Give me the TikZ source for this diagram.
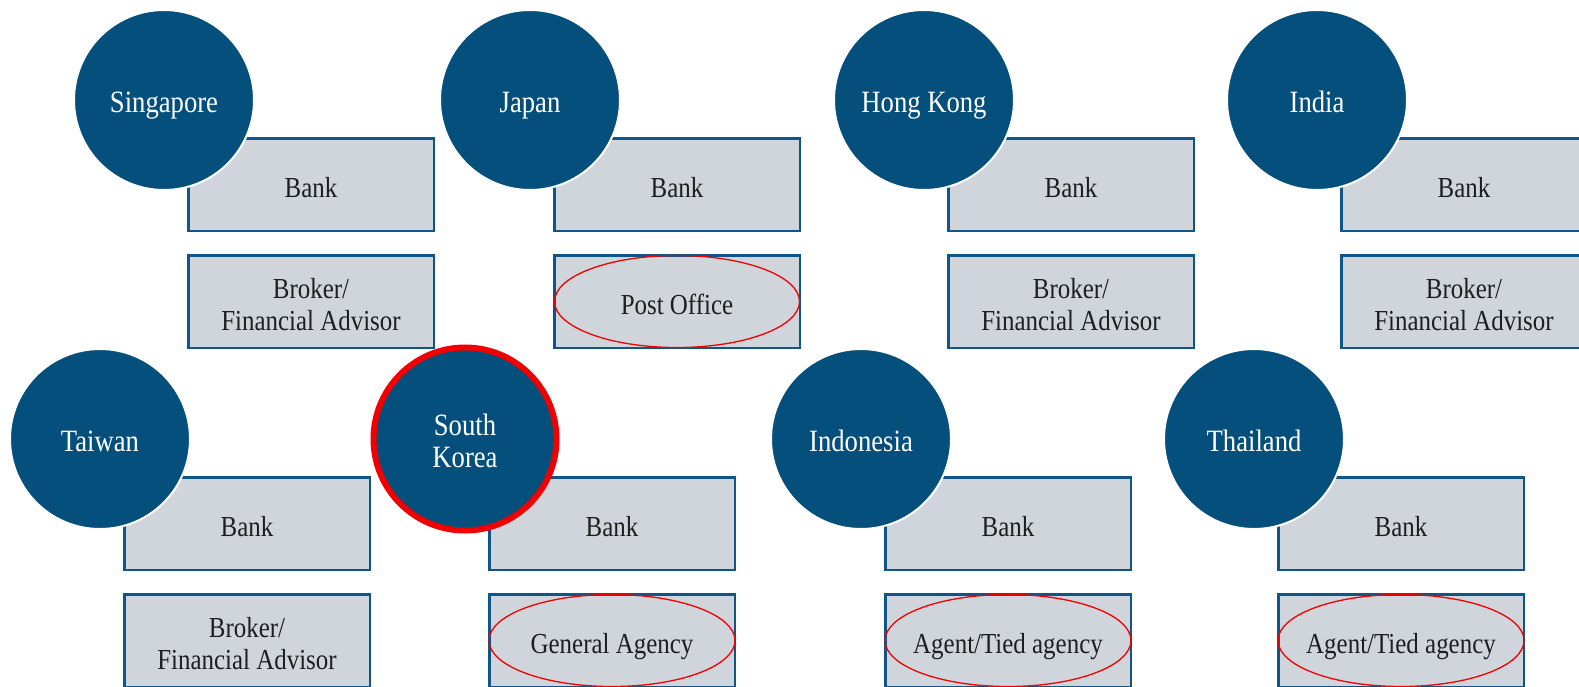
\documentclass[tikz,border=0pt]{standalone}
\usepackage{fontspec}
\setmainfont{Liberation Serif}[FakeStretch=0.86]
\usetikzlibrary{shapes.geometric}

\definecolor{navy}{HTML}{054F7C}
\definecolor{boxfill}{HTML}{D0D5DC}
\definecolor{boxline}{HTML}{0F5686}
\definecolor{ink}{HTML}{1E1E1E}
\definecolor{alert}{HTML}{F00000}

\tikzset{
  % baseline placement: text box height counted down to the last baseline
  oneline/.style={text height=26pt, text depth=0pt},
  twoline/.style={text height=57pt, text depth=0pt},
  country/.style={circle, fill=navy, draw=white, line width=2pt,
    minimum size=180pt, inner sep=0pt, text=white, align=center,
    font=\fontsize{31}{32}\selectfont, text height=24pt, text depth=0pt},
  focuscountry/.style={country, draw=alert, line width=6pt, minimum size=183pt,
    text height=56pt},
  channel/.style={rectangle, fill=boxfill, draw=boxline, line width=2.5pt,
    minimum width=245.5pt, minimum height=92.5pt, inner sep=0pt,
    text=ink, align=center, font=\fontsize{29}{32}\selectfont, oneline},
  channel2/.style={channel, twoline},
  focusring/.style={draw=alert, line width=1.3pt},
}

\begin{document}
\begin{tikzpicture}[x=1pt, y=-1pt]
\useasboundingbox (0,0) rectangle (1579,686);
\clip (0,0) rectangle (1579,686);

% ---- channel boxes, upper row ----
\node[channel]  (sgbank)   at (311,184.5)  {Bank};
\node[channel2] (sgbroker) at (311,301.5)  {Broker/\\Financial Advisor};
\node[channel]  (jpbank)   at (677,184.5)  {Bank};
\node[channel]  (jppost)   at (677,301.5)  {Post Office};
\node[channel]  (hkbank)   at (1071,184.5) {Bank};
\node[channel2] (hkbroker) at (1071,301.5) {Broker/\\Financial Advisor};
\node[channel]  (inbank)   at (1464,184.5) {Bank};
\node[channel2] (inbroker) at (1464,301.5) {Broker/\\Financial Advisor};

% ---- channel boxes, lower row ----
\node[channel]  (twbank)   at (247,523.5)  {Bank};
\node[channel2] (twbroker) at (247,640.5)  {Broker/\\Financial Advisor};
\node[channel]  (krbank)   at (612,523.5)  {Bank};
\node[channel]  (kragency) at (612,640.5)  {General Agency};
\node[channel]  (idbank)   at (1008,523.5) {Bank};
\node[channel]  (idagent)  at (1008,640.5) {Agent/Tied agency};
\node[channel]  (thbank)   at (1401,523.5) {Bank};
\node[channel]  (thagent)  at (1401,640.5) {Agent/Tied agency};

% ---- highlighted channels ----
\draw[focusring] (jppost.center)   ellipse [x radius=122.5, y radius=46];
\draw[focusring] (kragency.center) ellipse [x radius=123, y radius=46];
\draw[focusring] (idagent.center)  ellipse [x radius=123, y radius=46];
\draw[focusring] (thagent.center)  ellipse [x radius=123, y radius=46];

% ---- countries ----
\node[country] (sg) at (164,100)  {Singapore};
\node[country] (jp) at (530,100)  {Japan};
\node[country] (hk) at (924,100)  {Hong Kong};
\node[country] (in) at (1317,100) {India};
\node[country] (tw) at (100,439)  {Taiwan};
\node[focuscountry] (kr) at (465,439) {South\\Korea};
\node[country] (id) at (861,439)  {Indonesia};
\node[country] (th) at (1254,439) {Thailand};
\end{tikzpicture}
\end{document}
